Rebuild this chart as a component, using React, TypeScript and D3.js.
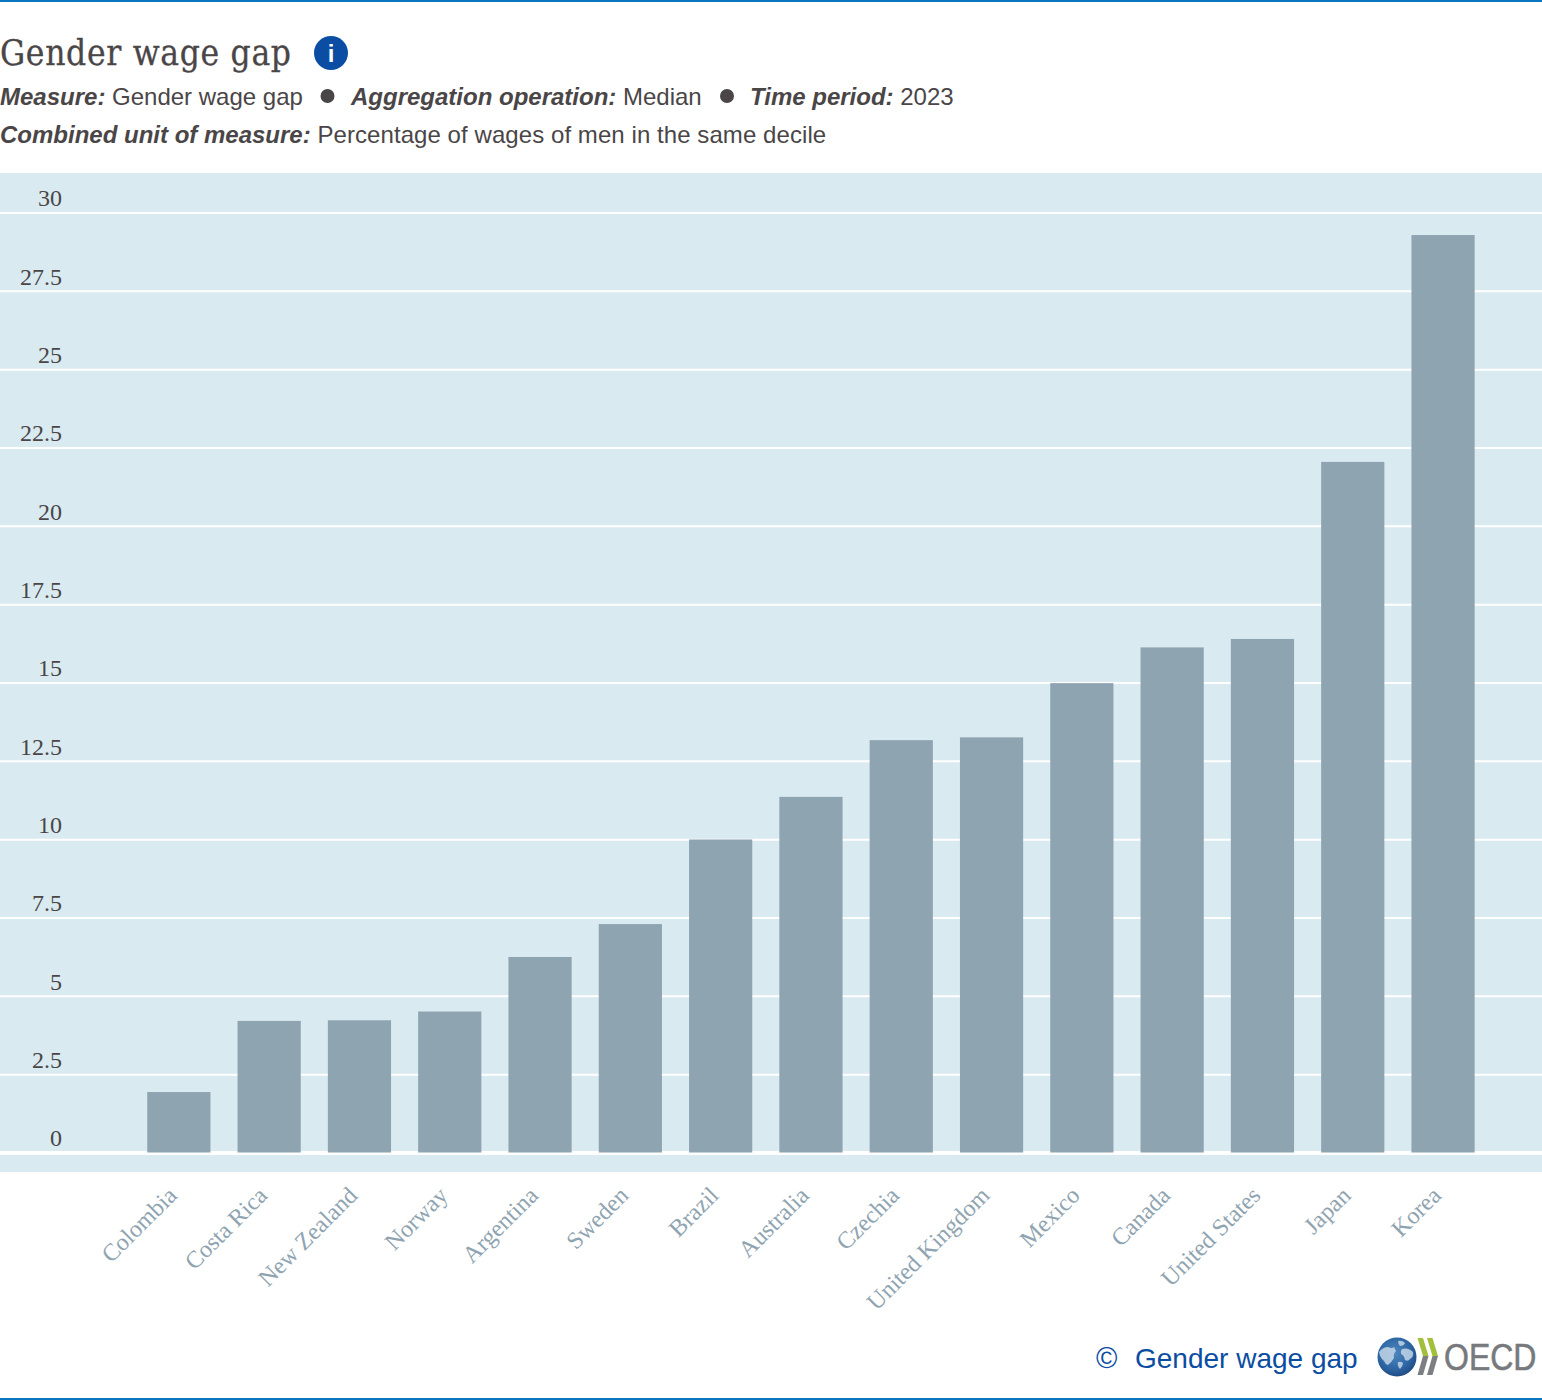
import { useEffect, useRef } from "react";
import * as d3 from "d3";

const categories = [
  "Colombia", "Costa Rica", "New Zealand", "Norway", "Argentina",
  "Sweden", "Brazil", "Australia", "Czechia", "United Kingdom",
  "Mexico", "Canada", "United States", "Japan", "Korea",
];
const values = [1.93, 4.2, 4.22, 4.5, 6.24, 7.29, 9.99, 11.35, 13.16, 13.25, 14.98, 16.12, 16.39, 22.04, 29.28];
const yTicks = [0, 2.5, 5, 7.5, 10, 12.5, 15, 17.5, 20, 22.5, 25, 27.5, 30];

const titleText = "Gender wage gap";
const subtitleParts = [
  { label: "Measure:", value: "Gender wage gap", x: 0 },
  { label: "Aggregation operation:", value: "Median", x: 351 },
  { label: "Time period:", value: "2023", x: 750 },
];
const unitPart = { label: "Combined unit of measure:", value: "Percentage of wages of men in the same decile" };

const WIDTH = 1542;
const HEIGHT = 1400;
const SANS = "'Liberation Sans', Arial, sans-serif";
const SERIF = "'Liberation Serif', 'Times New Roman', serif";
const TEXT = "#4a4647";
const BLUE = "#0b4da2";

export default function App() {
  const svgRef = useRef<SVGSVGElement>(null);

  useEffect(() => {
    if (!svgRef.current) return;
    const svg = d3.select(svgRef.current);
    svg.selectAll("*").remove();

    const x = d3.scaleBand<string>().domain(categories).range([133.7, 1488.2]).paddingInner(0.3).paddingOuter(0.15);
    const y = d3.scaleLinear().domain([0, 30]).range([1152.5, 212.5]);

    // Top and bottom rules
    svg.append("rect").attr("width", WIDTH).attr("height", 2).attr("fill", "#0a76c0");
    svg.append("rect").attr("y", HEIGHT - 2).attr("width", WIDTH).attr("height", 2).attr("fill", "#0a76c0");

    // Header
    svg.append("text").attr("x", 0).attr("y", 65)
      .attr("font-family", "'DejaVu Serif Condensed', 'DejaVu Serif', serif")
      .attr("font-stretch", "condensed")
      .attr("font-size", 35).attr("fill", TEXT).attr("stroke", TEXT).attr("stroke-width", 0.3)
      .attr("textLength", 291).text(titleText);
    svg.append("circle").attr("cx", 331).attr("cy", 53).attr("r", 17).attr("fill", BLUE);
    svg.append("text").attr("x", 331).attr("y", 62).attr("text-anchor", "middle").attr("font-family", SANS)
      .attr("font-weight", 700).attr("font-size", 24).attr("fill", "#fff").text("i");

    const addLine = (px: number, py: number, label: string, value: string, spacing = 0) => {
      const t = svg.append("text").attr("x", px).attr("y", py).attr("font-family", SANS)
        .attr("font-size", 24).attr("fill", TEXT);
      t.append("tspan").attr("font-weight", 700).attr("font-style", "italic").text(label);
      t.append("tspan").attr("letter-spacing", spacing).text(" " + value);
    };
    subtitleParts.forEach((p) => addLine(p.x, 105, p.label, p.value));
    addLine(0, 143, unitPart.label, unitPart.value, 0.07);
    [327.5, 727].forEach((cx) => {
      svg.append("circle").attr("cx", cx).attr("cy", 96).attr("r", 7).attr("fill", TEXT);
    });

    // Plot background
    svg.append("rect").attr("y", 173).attr("width", WIDTH).attr("height", 999).attr("fill", "#daeaf1");

    // Grid lines
    const grid = svg.append("g").call(d3.axisRight(y).tickValues(yTicks).tickSize(WIDTH).tickFormat(() => ""));
    grid.select(".domain").remove();
    grid.selectAll<SVGLineElement, number>(".tick line")
      .attr("stroke", "#fff")
      .attr("stroke-width", (d) => (d === 0 ? 4 : 2));

    // Y labels
    const yAxis = svg.append("g").attr("transform", "translate(62,0)")
      .call(d3.axisLeft(y).tickValues(yTicks).tickSize(0).tickPadding(0).tickFormat((d) => String(d)));
    yAxis.select(".domain").remove();
    yAxis.selectAll("text")
      .attr("dy", "-0.28em")
      .attr("font-family", SERIF)
      .attr("font-size", 24)
      .attr("fill", TEXT);

    // Bars
    svg.append("g").selectAll("rect")
      .data(categories)
      .join("rect")
      .attr("x", (d) => x(d)!)
      .attr("y", (_d, i) => y(values[i]))
      .attr("width", x.bandwidth())
      .attr("height", (_d, i) => y(0) - y(values[i]))
      .attr("fill", "#8fa4b1");

    // Rotated category labels
    const xAxis = svg.append("g").attr("transform", "translate(0,1172)")
      .call(d3.axisBottom(x).tickSize(0).tickPadding(0));
    xAxis.select(".domain").remove();
    xAxis.selectAll("text")
      .attr("text-anchor", "end")
      .attr("transform", "translate(-12.5,13) rotate(-45)")
      .attr("dy", "0.7em")
      .attr("font-family", SERIF)
      .attr("font-size", 24)
      .attr("fill", "#8fa4b1");

    // Footer
    svg.append("text").attr("x", 1096).attr("y", 1368).attr("font-family", SANS)
      .attr("font-size", 29).attr("fill", BLUE).text("©");
    svg.append("text").attr("x", 1135).attr("y", 1368).attr("font-family", SANS)
      .attr("font-size", 28).attr("fill", BLUE).text(titleText);

    // OECD logo
    const defs = svg.append("defs");
    const grad = defs.append("radialGradient").attr("id", "globe").attr("cx", "45%").attr("cy", "40%").attr("r", "65%");
    grad.append("stop").attr("offset", "0%").attr("stop-color", "#4f86bd");
    grad.append("stop").attr("offset", "60%").attr("stop-color", "#2f68a6");
    grad.append("stop").attr("offset", "100%").attr("stop-color", "#1c477f");
    svg.append("circle").attr("cx", 1397).attr("cy", 1357).attr("r", 19.5).attr("fill", "url(#globe)");
    const land = svg.append("g").attr("fill", "#d5e2ee").attr("opacity", 0.75);
    land.append("path").attr("d", "M1379 1352q4-5 9-5q4 2 6 0l2 4q-3 3-2 7q-3 5-6 7q-3-1-4-4q-4-3-5-9z");
    land.append("path").attr("d", "M1398 1341q4-1 7 2q-1 3-5 3q-2-2-2-5z");
    land.append("path").attr("d", "M1402 1349q6-2 11 3q1 5-3 7q-2 3-5 1q-1-5-4-6q-1-3 1-5z");
    land.append("path").attr("d", "M1398 1362q3-1 5 1q0 3-3 6q-3-3-2-7z");

    const chevron = (cx: number) => {
      svg.append("path").attr("d", `M${cx} 1338h5.5l5.5 18h-5.5z`).attr("fill", "#a2c03c");
      svg.append("path").attr("d", `M${cx + 5.5} 1356h5.5l-5.5 19h-5.5z`).attr("fill", "#7d7f82");
    };
    chevron(1417.5);
    chevron(1427);
    svg.append("text").attr("transform", "translate(1444,1370) scale(1,1.13)").attr("font-family", SANS)
      .attr("font-size", 32).attr("fill", "#77797c").attr("stroke", "#77797c").attr("stroke-width", 0.5)
      .text("OECD");
  }, []);

  return (
    <svg
      ref={svgRef}
      width={WIDTH}
      height={HEIGHT}
      viewBox={`0 0 ${WIDTH} ${HEIGHT}`}
      style={{ position: "absolute", left: 0, top: 0, background: "#fff" }}
    />
  );
}
